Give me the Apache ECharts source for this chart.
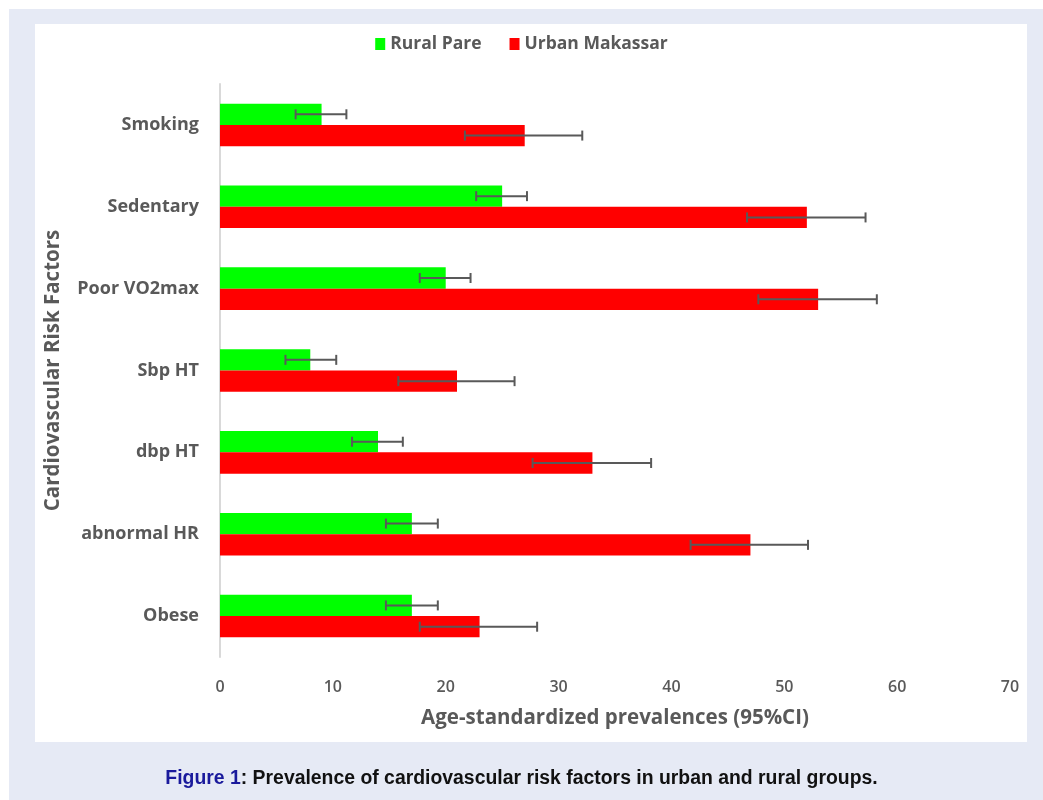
<!DOCTYPE html>
<html>
<head>
<meta charset="utf-8">
<title>Prevalence of cardiovascular risk factors</title>
<script src="https://cdn.jsdelivr.net/npm/echarts@6/dist/echarts.min.js"></script>
<style>
  html, body { margin: 0; padding: 0; background: #ffffff; }
  #chart { width: 1043px; height: 800px; }
</style>
</head>
<body>
<div id="chart"></div>
<script>
// Risk factors, listed top to bottom
const categories = ['Smoking', 'Sedentary', 'Poor VO2max', 'Sbp HT', 'dbp HT', 'abnormal HR', 'Obese'];

// Rural Pare: prevalence and 95% CI
const rural = [9, 25, 20, 8, 14, 17, 17];
const ruralLow = [6.7, 22.7, 17.7, 5.8, 11.7, 14.7, 14.7];
const ruralHigh = [11.2, 27.2, 22.2, 10.3, 16.2, 19.3, 19.3];

// Urban Makassar: prevalence and 95% CI
const urban = [27, 52, 53, 21, 33, 47, 23];
const urbanLow = [21.7, 46.7, 47.7, 15.8, 27.7, 41.7, 17.7];
const urbanHigh = [32.1, 57.2, 58.2, 26.1, 38.2, 52.1, 28.1];

const xTicks = { min: 0, max: 70, interval: 10 };

const TEXT = '#595959';
const FONT = '"Open Sans", "Noto Sans", sans-serif';
const CAPTION_FONT = '"Liberation Sans", Arial, sans-serif';
const BAR_SHARE = 0.26; // each bar's share of the category band

// Error bar data rows: [low, high, categoryIndex]
function ciRows(low, high) {
  return low.map((lo, i) => [lo, high[i], i]);
}

// Draws a horizontal whisker with end caps, shifted onto its own bar
function errorBarRenderer(side) {
  return function (params, api) {
    const band = api.size([0, 1])[1];
    const shift = side * band * BAR_SHARE / 2;
    const a = api.coord([api.value(0), api.value(2)]);
    const b = api.coord([api.value(1), api.value(2)]);
    const y = a[1] + shift;
    const cap = 5;
    const style = { stroke: TEXT, lineWidth: 2 };
    return {
      type: 'group',
      children: [
        { type: 'line', shape: { x1: a[0], y1: y, x2: b[0], y2: y }, style: style },
        { type: 'line', shape: { x1: a[0], y1: y - cap, x2: a[0], y2: y + cap }, style: style },
        { type: 'line', shape: { x1: b[0], y1: y - cap, x2: b[0], y2: y + cap }, style: style }
      ]
    };
  };
}

const chart = echarts.init(document.getElementById('chart'), null, { renderer: 'canvas' });

chart.setOption({
  animation: false,
  textStyle: { fontFamily: FONT },
  graphic: [
    { type: 'rect', z: -20, silent: true, shape: { x: 9, y: 9, width: 1034, height: 791 }, style: { fill: '#e6eaf5' } },
    { type: 'rect', z: -10, silent: true, shape: { x: 35, y: 24, width: 992, height: 718 }, style: { fill: '#ffffff' } }
  ],
  title: {
    left: 'center',
    top: 764,
    text: '{fig|Figure 1}{body|: Prevalence of cardiovascular risk factors in urban and rural groups.}',
    textStyle: {
      rich: {
        fig: { fontFamily: CAPTION_FONT, fontWeight: 'bold', fontSize: 19.4, color: '#1a1a9c' },
        body: { fontFamily: CAPTION_FONT, fontWeight: 'bold', fontSize: 19.4, color: '#111111' }
      }
    }
  },
  legend: {
    top: 30,
    left: 'center',
    itemWidth: 10,
    itemHeight: 12,
    itemGap: 28,
    icon: 'rect',
    data: ['Rural Pare', 'Urban Makassar'],
    textStyle: { color: TEXT, fontSize: 17.5, fontWeight: 'bold', fontFamily: FONT }
  },
  grid: { left: 220, right: 33, top: 84, bottom: 143, containLabel: false },
  xAxis: {
    type: 'value',
    min: xTicks.min,
    max: xTicks.max,
    interval: xTicks.interval,
    axisLine: { show: false },
    axisTick: { show: false },
    splitLine: { show: false },
    axisLabel: { color: TEXT, fontSize: 16, margin: 22, fontFamily: FONT, fontWeight: 600 },
    name: 'Age-standardized prevalences (95%CI)',
    nameLocation: 'middle',
    nameGap: 51,
    nameTextStyle: { color: TEXT, fontSize: 20.5, fontWeight: 'bold', fontFamily: FONT }
  },
  yAxis: {
    type: 'category',
    inverse: true,
    data: categories,
    axisLine: { show: true, lineStyle: { color: '#d9d9d9', width: 2 } },
    axisTick: { show: false },
    axisLabel: { color: TEXT, fontSize: 18, fontWeight: 'bold', margin: 21, fontFamily: FONT },
    name: 'Cardiovascular Risk Factors',
    nameLocation: 'middle',
    nameRotate: 90,
    nameGap: 156,
    nameTextStyle: { color: TEXT, fontSize: 20.5, fontWeight: 'bold', fontFamily: FONT }
  },
  series: [
    {
      name: 'Rural Pare',
      type: 'bar',
      data: rural,
      barWidth: (BAR_SHARE * 100) + '%',
      barGap: '0%',
      itemStyle: { color: '#00ff00' },
      z: 2
    },
    {
      name: 'Urban Makassar',
      type: 'bar',
      data: urban,
      barWidth: (BAR_SHARE * 100) + '%',
      barGap: '0%',
      itemStyle: { color: '#ff0000' },
      z: 2
    },
    {
      name: 'Rural Pare CI',
      type: 'custom',
      renderItem: errorBarRenderer(-1),
      data: ciRows(ruralLow, ruralHigh),
      encode: { x: [0, 1], y: 2 },
      z: 5,
      silent: true
    },
    {
      name: 'Urban Makassar CI',
      type: 'custom',
      renderItem: errorBarRenderer(1),
      data: ciRows(urbanLow, urbanHigh),
      encode: { x: [0, 1], y: 2 },
      z: 5,
      silent: true
    }
  ]
});
</script>
</body>
</html>
